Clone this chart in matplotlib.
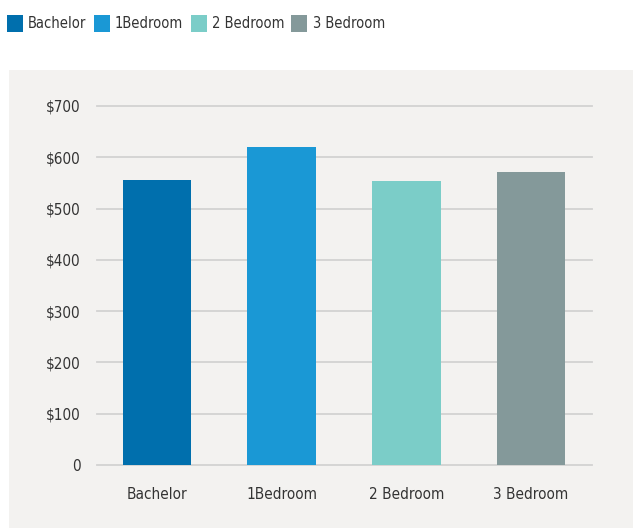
import matplotlib
matplotlib.use("Agg")
import matplotlib.pyplot as plt
from matplotlib.patches import Rectangle

categories = ["Bachelor", "1Bedroom", "2 Bedroom", "3 Bedroom"]
values = [556, 620, 554, 571]
colors = ["#006FAD", "#1A98D5", "#7BCDC8", "#84999A"]
yticks = [0, 100, 200, 300, 400, 500, 600, 700]
ytick_labels = ["0", "$100", "$200", "$300", "$400", "$500", "$600", "$700"]

plt.rcParams['font.family'] = ['Liberation Sans Narrow', 'DejaVu Sans']
plt.rcParams['font.stretch'] = 'condensed'

W, H = 634, 529
fig = plt.figure(figsize=(W / 100, H / 100), dpi=100)
fig.patch.set_facecolor("white")

# panel background
fig.patches.append(Rectangle((9 / W, 1 - 528 / H), (633 - 9) / W, (528 - 70) / H,
                             transform=fig.transFigure, facecolor="#F3F2F0",
                             edgecolor="none", zorder=-10))

ax = fig.add_axes([97 / W, 1 - 465 / H, (592 - 97) / W, (465 - 106) / H], zorder=2)
ax.set_facecolor("none")
x = range(len(categories))
ax.bar(x, values, width=0.55, color=colors, zorder=3)
ax.set_xlim(-0.48, 3.49)
ax.set_ylim(0, 700)
ax.set_yticks(yticks)
ax.set_yticklabels(ytick_labels)
for yv in yticks:
    ax.axhline(yv, color="#D2D2D2", lw=1.3, zorder=1, clip_on=False)
ax.set_xticks(list(x))
ax.set_xticklabels(categories)
for s in ax.spines.values():
    s.set_visible(False)
ax.tick_params(axis="both", length=0, labelsize=11, colors="#333333")
ax.tick_params(axis="y", pad=12)
ax.tick_params(axis="x", pad=16)

# legend
handles = [Rectangle((0, 0), 1, 1, facecolor=c, edgecolor="none") for c in colors]
leg = fig.legend(handles, categories, loc="upper left", bbox_to_anchor=(7 / W, 1 - 15 / H),
                 ncol=4, frameon=False, fontsize=10.5, handlelength=1.1, handleheight=1.45,
                 handletextpad=0.35, columnspacing=0.5, labelcolor="#333333",
                 borderpad=0, borderaxespad=0)

fig.savefig("out.png", dpi=100)
